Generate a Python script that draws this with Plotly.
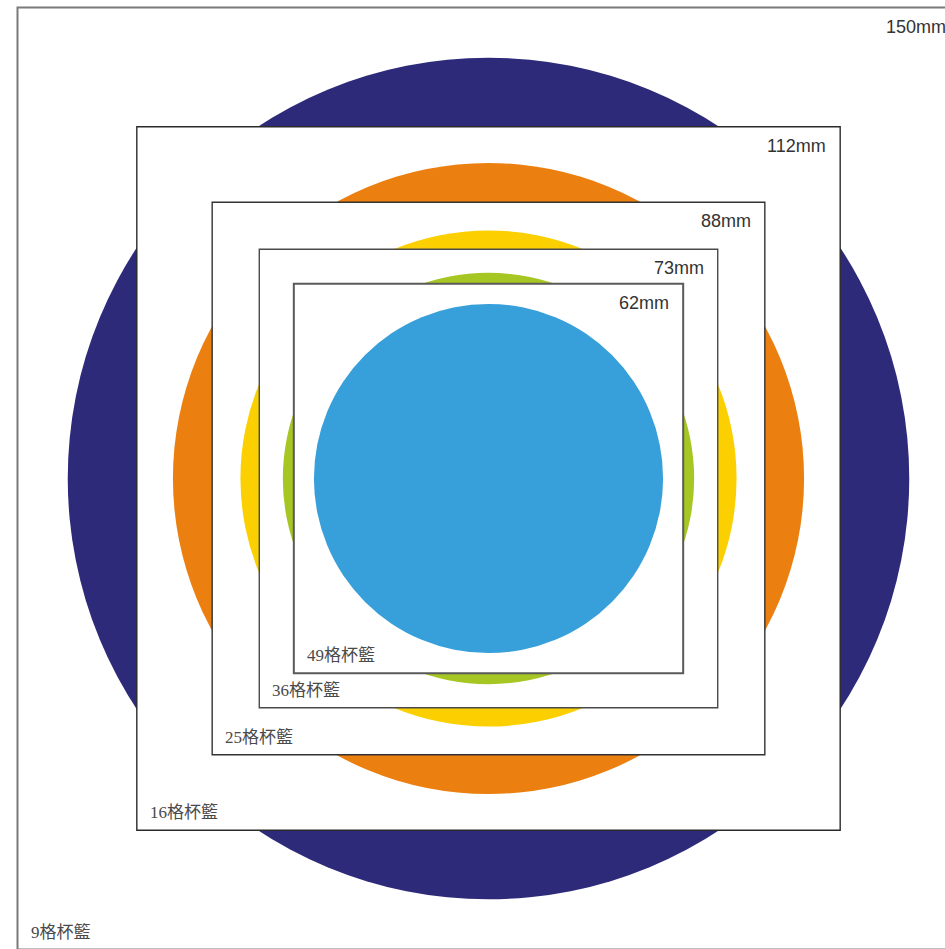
import plotly.graph_objects as go

# Basket boxes (outer size, mm) and their labels
box_sizes = [150, 112, 88, 73, 62]
box_size_labels = ["150mm", "112mm", "88mm", "73mm", "62mm"]
box_cup_labels = ["9格杯籃", "16格杯籃", "25格杯籃", "36格杯籃", "49格杯籃"]
box_line_colors = ["#7a7a7a", "#2a2a2a", "#333333", "#4a4a4a", "#5a5a5a"]

# Cup circles (diameter, mm) drawn inside each box
cup_diameters = [134, 100.5, 79, 65.5, 55.6]
cup_colors = ["#2e2a7a", "#eb7f0f", "#fcd000", "#a6c623", "#379fd9"]

SCALE = 6.28  # px per mm
CX, CY = 488.5, 478.5
W, H = 980, 980  # page is larger than the 945x949 window; outer box runs past the edge

fig = go.Figure()
shapes = []
annotations = []
for i, s in enumerate(box_sizes):
    h = s / 2
    shapes.append(dict(type="rect", xref="x", yref="y", x0=-h, x1=h, y0=-h, y1=h,
                       fillcolor="white",
                       line=dict(color=box_line_colors[i], width=2 if i in (0, 4) else 1.4)))
    r = cup_diameters[i] / 2
    shapes.append(dict(type="circle", xref="x", yref="y", x0=-r, x1=r, y0=-r, y1=r,
                       fillcolor=cup_colors[i], line=dict(width=0)))
    annotations.append(dict(x=h, y=h, xref="x", yref="y", text=box_size_labels[i],
                            showarrow=False, xanchor="right", yanchor="middle",
                            xshift=-12, yshift=-19,
                            font=dict(family="Liberation Sans, Arial", size=18, color="#333333")))
    annotations.append(dict(x=-h, y=-h, xref="x", yref="y", text=box_cup_labels[i],
                            showarrow=False, xanchor="left", yanchor="middle",
                            xshift=11, yshift=17.5,
                            font=dict(family="Liberation Serif, Noto Sans CJK TC", size=17, color="#4a4a4a")))

fig.add_trace(go.Scatter(x=[0], y=[0], mode="markers", marker=dict(opacity=0), hoverinfo="skip"))

fig.update_layout(
    width=W, height=H,
    margin=dict(l=0, r=0, t=0, b=0),
    paper_bgcolor="white", plot_bgcolor="white",
    showlegend=False,
    shapes=shapes, annotations=annotations,
    xaxis=dict(range=[-CX / SCALE, (W - CX) / SCALE], visible=False, fixedrange=True),
    yaxis=dict(range=[-(H - CY) / SCALE, CY / SCALE], visible=False, fixedrange=True),
)

fig.write_html("out.html", config={"displayModeBar": False},
               post_script="document.body.style.margin='0';document.body.style.overflow='hidden';")
